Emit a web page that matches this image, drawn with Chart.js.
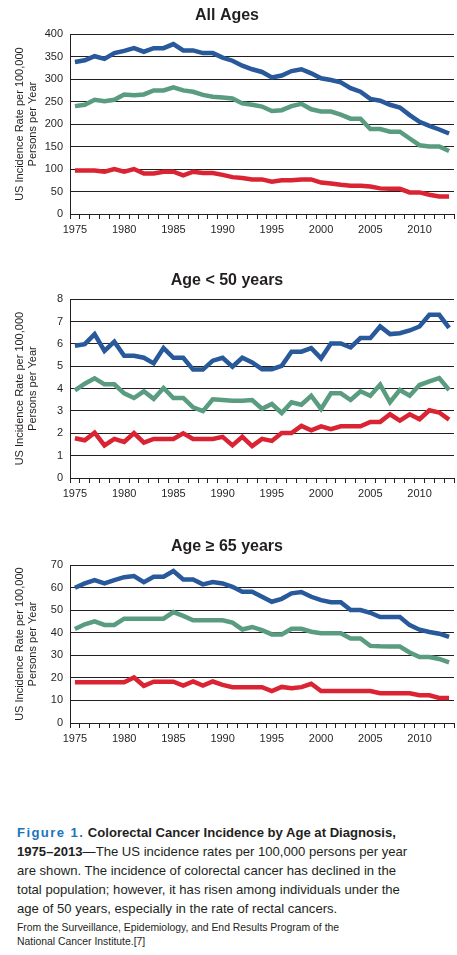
<!DOCTYPE html>
<html>
<head>
<meta charset="utf-8">
<script src="https://cdn.jsdelivr.net/npm/chart.js@4/dist/chart.umd.min.js"></script>
<style>
  html, body { margin: 0; padding: 0; background: #fff; overflow: hidden; width: 457px; height: 955px; }
  .wrap { position: absolute; left: 0; width: 494px; }
  #caption { position: absolute; left: 17px; top: 823px; width: 440px; font-family: "Liberation Sans", Arial, sans-serif; color: #231f20; }
  #caption .main { font-size: 13.1px; line-height: 19px; }
  #caption .fig { color: #1a75bb; font-weight: bold; letter-spacing: 1.4px; }
  #caption b { font-weight: bold; }
  #caption .src { font-size: 10.4px; line-height: 14px; margin-top: 3px; }
</style>
</head>
<body>
<div class="wrap" style="top:0px"><canvas id="allAges" width="494" height="240"></canvas></div>
<div class="wrap" style="top:265px"><canvas id="under50" width="494" height="239"></canvas></div>
<div class="wrap" style="top:531px"><canvas id="over65" width="494" height="218"></canvas></div>
<div id="caption">
  <div class="main"><span class="fig">Figure 1.</span> <b>Colorectal Cancer Incidence by Age at Diagnosis,<br>1975–2013</b>—The US incidence rates per 100,000 persons per year<br>are shown. The incidence of colorectal cancer has declined in the<br>total population; however, it has risen among individuals under the<br>age of 50 years, especially in the rate of rectal cancers.</div>
  <div class="src">From the Surveillance, Epidemiology, and End Results Program of the<br>National Cancer Institute.[7]</div>
</div>
<script>
// years on the x axis (1975-2013)
const years = [];
for (let y = 1975; y <= 2013; y++) years.push(String(y));

// All ages
const allBlue = [338,342,351,345,358,363,369,361,369,369,378,364,364,358,358,348,341,330,322,316,304,308,318,322,313,302,298,293,280,272,256,252,243,237,220,205,196,188,179];
const allGreen = [240,243,254,251,254,266,264,266,275,275,282,275,272,265,261,259,257,246,243,239,229,231,240,245,233,228,228,221,212,212,189,189,183,183,168,153,150,150,140];
const allRed = [97,97,97,94,100,94,100,90,90,94,94,86,94,91,91,87,82,80,77,77,72,75,75,77,77,70,68,65,63,63,61,57,56,56,48,48,43,39,39];

// Age < 50
const u50Blue = [5.92,5.99,6.44,5.69,6.10,5.47,5.47,5.38,5.13,5.81,5.38,5.38,4.85,4.85,5.25,5.38,4.98,5.38,5.17,4.87,4.87,5.02,5.65,5.65,5.81,5.35,6.02,6.02,5.84,6.26,6.26,6.78,6.44,6.48,6.60,6.78,7.30,7.30,6.72];
const u50Green = [3.92,4.22,4.46,4.19,4.19,3.79,3.58,3.88,3.54,4.03,3.58,3.58,3.16,2.99,3.52,3.49,3.46,3.46,3.49,3.10,3.31,2.91,3.39,3.28,3.68,3.09,3.79,3.79,3.49,3.88,3.68,4.18,3.39,3.94,3.68,4.16,4.32,4.47,3.94];
const u50Red = [1.78,1.69,2.03,1.46,1.75,1.61,2.01,1.58,1.75,1.75,1.75,2.00,1.75,1.75,1.75,1.84,1.46,1.84,1.43,1.75,1.66,2.01,2.01,2.33,2.13,2.31,2.18,2.31,2.31,2.31,2.51,2.51,2.85,2.57,2.85,2.63,3.03,2.93,2.61];

// Age >= 65
const o65Blue = [60,61.9,63.4,61.9,63.4,64.7,65.2,62.5,64.9,64.9,67.4,63.7,63.7,61.5,62.5,61.9,60.4,58.2,58.2,56,53.8,55.1,57.5,58.1,56,54.5,53.6,53.6,50.1,50.1,48.9,47,47,47,43.4,41.4,40.4,39.6,38.2];
const o65Green = [41.7,43.8,45.1,43.5,43.5,46.3,46.3,46.3,46.3,46.3,49.2,47.5,45.6,45.6,45.6,45.6,44.5,41.5,42.6,41.2,39.3,39.3,41.8,41.8,40.5,39.8,39.8,39.8,37.5,37.5,34.2,34,33.9,33.9,31.3,29.3,29.3,28.4,26.9];
const o65Red = [18.1,18.1,18.1,18.1,18.1,18.1,20.2,16.5,18.3,18.3,18.3,16.6,18.4,16.6,18.4,16.9,15.9,15.9,15.9,15.9,14.2,16,15.4,15.9,17.4,14.2,14.2,14.2,14.2,14.2,14.2,13.2,13.2,13.2,13.2,12.3,12.3,11.1,11.1];

const yTitle = ['US Incidence Rate per 100,000', 'Persons per Year'];
const ink = '#231f20';

Chart.defaults.font.family = '"Liberation Sans", Arial, sans-serif';
Chart.defaults.color = ink;

function lineSet(data, color) {
    return {
        data: data,
        borderColor: color,
        borderWidth: 4.5,
        pointRadius: 0,
        tension: 0,
        fill: false
    };
}

function makeChart(id, title, max, step, blue, green, red) {
    const ctx = document.getElementById(id);
    new Chart(ctx, {
        type: 'line',
        data: {
            labels: years,
            datasets: [
                lineSet(blue, '#27599b'),
                lineSet(green, '#5a9c80'),
                lineSet(red, '#db2433')
            ]
        },
        options: {
            responsive: false,
            animation: false,
            devicePixelRatio: 1,
            layout: { padding: { left: 0, right: 40, top: 0, bottom: 0 } },
            plugins: {
                legend: { display: false },
                tooltip: { enabled: false },
                title: {
                    display: true,
                    text: title,
                    color: ink,
                    font: { size: 16, weight: 'bold' },
                    padding: { top: 6, bottom: 9 }
                }
            },
            scales: {
                x: {
                    type: 'category',
                    offset: true,
                    afterFit: (s) => { s.height = 26; },
                    grid: { display: true, offset: true, drawOnChartArea: false, drawTicks: true, tickLength: 5, color: ink, lineWidth: 1 },
                    border: { display: true, color: ink, width: 1 },
                    ticks: {
                        autoSkip: false,
                        maxRotation: 0,
                        padding: 4,
                        font: { size: 11 },
                        callback: function (val, i) {
                            return Number(years[i]) % 5 === 0 ? years[i] : '';
                        }
                    }
                },
                y: {
                    min: 0,
                    max: max,
                    afterFit: (s) => { s.width = 70; },
                    grid: { color: ink, lineWidth: 1, drawTicks: false },
                    border: { display: true, color: ink, width: 1 },
                    ticks: { stepSize: step, padding: 7, font: { size: 11 } },
                    title: {
                        display: true,
                        text: yTitle,
                        color: ink,
                        font: { size: 11, lineHeight: 1.2 },
                        padding: { top: 13, bottom: 0 }
                    }
                }
            }
        }
    });
}

makeChart('allAges', 'All Ages', 400, 50, allBlue, allGreen, allRed);
makeChart('under50', 'Age < 50 years', 8, 1, u50Blue, u50Green, u50Red);
makeChart('over65', 'Age \u2265 65 years', 70, 10, o65Blue, o65Green, o65Red);
</script>
</body>
</html>
